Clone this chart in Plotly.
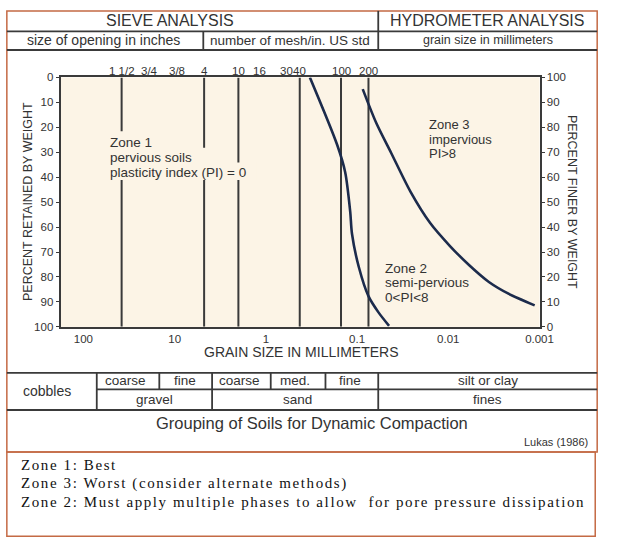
import math
import plotly.graph_objects as go

W, H = 619, 550

# ---------------- data ----------------
x_tick_vals = [100, 10, 1, 0.1, 0.01, 0.001]
x_tick_text = ["100", "10", "1", "0.1", "0.01", "0.001"]
y_ticks = [0, 10, 20, 30, 40, 50, 60, 70, 80, 90, 100]

sieve_labels = ["1 1/2", "3/4", "3/8", "4", "10", "16", "30", "40", "100", "200"]
sieve_mm = [38.1, 19.05, 9.525, 4.75, 2.0, 1.18, 0.6, 0.425, 0.15, 0.075]
sieve_lines_mm = [38.1, 4.75, 2.0, 0.425, 0.15, 0.075]

# boundary curves (grain size mm, percent finer)
curve_a_mm = [0.329, 0.165, 0.135, 0.119, 0.1137, 0.0957, 0.0748, 0.0585, 0.0446]
curve_a_finer = [100, 72.9, 62, 46.3, 37.3, 24, 12.2, 5.9, 0.4]
curve_b_mm = [0.0867, 0.0614, 0.0424, 0.0259, 0.0158, 0.00964, 0.00589, 0.00359, 0.00219, 0.00113]
curve_b_finer = [95.3, 81.6, 69.8, 54.1, 41.6, 32.5, 24.7, 18.0, 13.3, 8.6]

header_top = ["SIEVE ANALYSIS", "HYDROMETER ANALYSIS"]
header_sub = ["size of opening in inches", "number of mesh/in. US std", "grain size in millimeters"]
soil_top = ["coarse", "fine", "coarse", "med.", "fine", "silt or clay"]
soil_bottom = ["cobbles", "gravel", "sand", "fines"]
zone1_text = ["Zone 1", "pervious soils", "plasticity index (PI) = 0"]
zone2_text = ["Zone 2", "semi-pervious", "0<PI<8"]
zone3_text = ["Zone 3", "impervious", "PI>8"]
notes = ["Zone 1: Best",
         "Zone 3: Worst (consider alternate methods)",
         "Zone 2: Must apply multiple phases to allow  for pore pressure dissipation"]

# ---------------- helpers ----------------
def px(x):
    return x / W

def py(y):
    return 1 - y / H

SANS = "Liberation Sans, Arial, sans-serif"
SERIF = "Liberation Serif, Times New Roman, serif"
DARK = "#3a3a3a"
TXT = "#333333"
BORDER = "#c46a44"
CREAM = "#fcf4e6"
NAVY = "#1c2b4c"

L, R, T, B = 62, 552, 73, 328

fig = go.Figure()

# sieve lines
xs, ys = [], []
for d in sieve_lines_mm:
    xs += [d, d, None]
    ys += [0, 100, None]
fig.add_trace(go.Scatter(x=xs, y=ys, mode="lines", line=dict(color=DARK, width=2),
                         hoverinfo="skip", showlegend=False))

fig.add_trace(go.Scatter(x=curve_a_mm, y=curve_a_finer, mode="lines", yaxis="y2",
                         line=dict(color=NAVY, width=2.6, shape="spline", smoothing=0.8),
                         showlegend=False))
fig.add_trace(go.Scatter(x=curve_b_mm, y=curve_b_finer, mode="lines", yaxis="y2",
                         line=dict(color=NAVY, width=2.6, shape="spline", smoothing=0.8),
                         showlegend=False))

shapes = []

def hline(y, x0, x1, color=DARK, w=1.8):
    shapes.append(dict(type="line", xref="paper", yref="paper", x0=px(x0), x1=px(x1),
                       y0=py(y), y1=py(y), line=dict(color=color, width=w)))

def vline(x, y0, y1, color=DARK, w=1.8):
    shapes.append(dict(type="line", xref="paper", yref="paper", x0=px(x), x1=px(x),
                       y0=py(y0), y1=py(y1), line=dict(color=color, width=w)))

def cover(x0, x1, y0, y1):
    shapes.append(dict(type="rect", xref="paper", yref="paper", x0=px(x0), x1=px(x1),
                       y0=py(y1), y1=py(y0), fillcolor=CREAM, line=dict(width=0),
                       layer="above"))

# outer boxes
shapes.append(dict(type="rect", xref="paper", yref="paper", x0=px(7), x1=px(611),
                   y0=py(456), y1=py(5), line=dict(color=BORDER, width=1.5)))
shapes.append(dict(type="rect", xref="paper", yref="paper", x0=px(7), x1=px(609),
                   y0=py(542), y1=py(456), line=dict(color=BORDER, width=1.5)))
# header table
hline(26, 7, 611)
hline(45, 7, 611)
vline(387, 5, 45)
vline(208, 26, 45)
# soil table
hline(375, 7, 611)
hline(392, 99, 611)
hline(413, 7, 611)
vline(99, 375, 413)
vline(163, 375, 392)
vline(217, 375, 413)
vline(277, 375, 392)
vline(333, 375, 392)
vline(387, 375, 413)

# gaps in the sieve lines behind the Zone 1 label
cover(108, 160, 128, 178)
cover(160, 225, 145, 178)
cover(225, 262, 160, 178)

ann = []

def text(s, x, y, size=12, anchor="center", font=SANS, color=TXT, angle=0):
    ann.append(dict(text=s, x=px(x), y=py(y), xref="paper", yref="paper", showarrow=False,
                    xanchor=anchor, yanchor="middle", textangle=angle,
                    font=dict(family=font, size=size, color=color)))

text(header_top[0], 174, 15, 16)
text(header_top[1], 498, 15, 16)
text(header_sub[0], 106, 35, 14)
text(header_sub[1], 297, 35, 13.5)
text(header_sub[2], 499, 35, 12.5)

# sieve labels above plot
for lab, d in zip(sieve_labels, sieve_mm):
    ann.append(dict(text=lab, x=math.log10(d), y=py(66), xref="x", yref="paper",
                    showarrow=False, xanchor="center", yanchor="middle",
                    font=dict(family=SANS, size=11.5, color=TXT)))

# zone texts
for i, s in enumerate(zone1_text):
    text(s, 110, 140 + i * 15, 13.5, anchor="left")
for i, s in enumerate(zone3_text):
    text(s, 437, 121 + i * 15, 13, anchor="left")
for i, s in enumerate(zone2_text):
    text(s, 392, 268 + i * 15, 13.5, anchor="left")

# axis titles
text("PERCENT RETAINED BY WEIGHT", 28, 200, 12.5, angle=-90)
text("PERCENT FINER BY WEIGHT", 586, 200, 12.5, angle=90)
text("GRAIN SIZE IN MILLIMETERS", 308, 354, 14)

# soil table texts
text(soil_bottom[0], 48, 394, 14)
text(soil_top[0], 128, 383, 13.5)
text(soil_top[1], 189, 383, 13.5)
text(soil_bottom[1], 158, 402, 13.5)
text(soil_top[2], 245, 383, 13.5)
text(soil_top[3], 302, 383, 13.5)
text(soil_top[4], 358, 383, 13.5)
text(soil_bottom[2], 304, 402, 13.5)
text(soil_top[5], 499, 383, 13.5)
text(soil_bottom[3], 499, 402, 13.5)
text("Grouping of Soils for Dynamic Compaction", 319, 426, 16.5)
text("Lukas (1986)", 604, 446, 11, anchor="right")

for i, s in enumerate(notes):
    text('<span style="letter-spacing:1.6px">' + s + '</span>', 19, 469 + i * 19, 15,
         anchor="left", font=SERIF, color="#111111")

fig.update_layout(
    width=W, height=H,
    margin=dict(l=0, r=0, t=0, b=0),
    paper_bgcolor="white",
    plot_bgcolor=CREAM,
    shapes=shapes,
    annotations=ann,
    showlegend=False,
    xaxis=dict(type="log", range=[2.25, -3], domain=[px(L), px(R)],
               tickvals=x_tick_vals, ticktext=x_tick_text, showgrid=False, zeroline=False,
               showline=True, linecolor=DARK, linewidth=2, mirror=True, ticks="",
               tickfont=dict(family=SANS, size=11.5, color=TXT)),
    yaxis=dict(range=[100, 0], domain=[py(B), py(T)], tickvals=y_ticks, showgrid=False,
               zeroline=False, showline=True, linecolor=DARK, linewidth=2, ticks="outside",
               ticklen=3, tickcolor=DARK, tickfont=dict(family=SANS, size=11.5, color=TXT)),
    yaxis2=dict(range=[0, 100], overlaying="y", side="right", anchor="x", tickvals=y_ticks,
                showgrid=False, zeroline=False, showline=True, linecolor=DARK, linewidth=2,
                ticks="outside", ticklen=3, tickcolor=DARK,
                tickfont=dict(family=SANS, size=11.5, color=TXT)),
)

fig.write_html("out.html")
